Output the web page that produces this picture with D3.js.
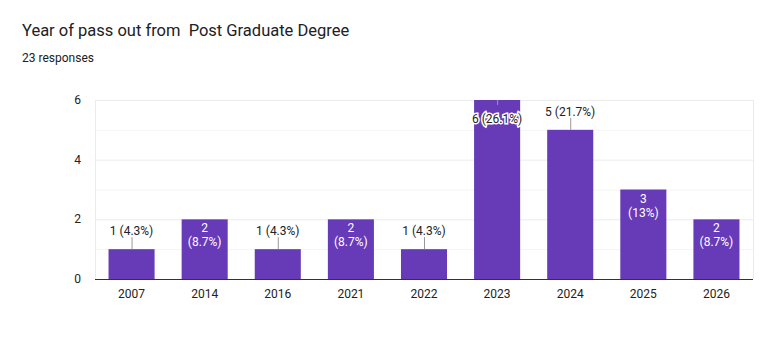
<!DOCTYPE html>
<html>
<head>
<meta charset="utf-8">
<style>
    body { margin: 0; background: #fff; font-family: Roboto, Arial, sans-serif; }
    .grid line { stroke: #ebebeb; }
    .minor line { stroke: #f4f4f4; }
    .axis text { fill: #222; font-size: 12px; }
</style>
</head>
<body>
<svg id="chart" width="763" height="351"></svg>
<script src="https://cdn.jsdelivr.net/npm/d3@7"></script>
<script>
    // chart data
    const years = ["2007", "2014", "2016", "2021", "2022", "2023", "2024", "2025", "2026"]
    const counts = [1, 2, 1, 2, 1, 6, 5, 3, 2]
    const percents = ["4.3%", "8.7%", "4.3%", "8.7%", "4.3%", "26.1%", "21.7%", "13%", "8.7%"]
    const yTicks = [0, 2, 4, 6]

    const svg = d3.select("#chart")
    const plotLeft = 95, plotRight = 753, plotTop = 100, plotBottom = 279

    svg.append("text").attr("x", 22).attr("y", 36)
        .attr("font-size", "16.5px").attr("fill", "#202124")
        .style("white-space", "pre")
        .text("Year of pass out from  Post Graduate Degree")
    svg.append("text").attr("x", 22).attr("y", 62)
        .attr("font-size", "12px").attr("fill", "#202124")
        .text("23 responses")

    let x = d3.scaleBand().domain(years).range([plotLeft, plotRight])
        .paddingInner(0.37).paddingOuter(0.185)
    let y = d3.scaleLinear().domain([0, 6]).range([plotBottom, plotTop])

    // odd gridlines lighter
    svg.append("g").attr("class", "minor")
        .selectAll("line").data([1, 3, 5]).join("line")
        .attr("x1", plotLeft).attr("x2", plotRight)
        .attr("y1", d => y(d) + 0.5).attr("y2", d => y(d) + 0.5)
    svg.append("g").attr("class", "grid")
        .selectAll("line").data(yTicks.slice(1)).join("line")
        .attr("x1", plotLeft).attr("x2", plotRight)
        .attr("y1", d => y(d) + 0.5).attr("y2", d => y(d) + 0.5)
    // frame sides
    svg.append("g").attr("class", "grid")
        .selectAll("line").data([plotLeft, plotRight]).join("line")
        .attr("x1", d => d + 0.5).attr("x2", d => d + 0.5)
        .attr("y1", plotTop).attr("y2", plotBottom)

    // y axis labels
    svg.append("g").attr("class", "axis")
        .selectAll("text").data(yTicks).join("text")
        .attr("x", 81).attr("y", d => y(d) + 4)
        .attr("text-anchor", "end").text(d => d)

    // bars
    svg.append("g").selectAll("rect").data(years).join("rect")
        .attr("x", d => x(d)).attr("width", x.bandwidth())
        .attr("y", (d, i) => y(counts[i]))
        .attr("height", (d, i) => y(0) - y(counts[i]))
        .attr("fill", "#673ab7")

    // baseline
    svg.append("line").attr("x1", plotLeft).attr("x2", plotRight)
        .attr("y1", plotBottom + 0.5).attr("y2", plotBottom + 0.5)
        .attr("stroke", "#333")

    // x axis labels
    svg.append("g").attr("class", "axis")
        .selectAll("text").data(years).join("text")
        .attr("x", d => x(d) + x.bandwidth() / 2).attr("y", 298)
        .attr("text-anchor", "middle").text(d => d)

    // value labels
    const lab = svg.append("g").attr("font-size", "12px")
    years.forEach((yr, i) => {
        let cx = x(yr) + x.bandwidth() / 2
        let v = counts[i]
        if (v === 2 || v === 3) {
            // inside, two lines, white
            lab.append("text").attr("x", cx).attr("y", y(v) + 13)
                .attr("text-anchor", "middle").attr("fill", "#fff").text(v)
            lab.append("text").attr("x", cx).attr("y", y(v) + 27)
                .attr("text-anchor", "middle").attr("fill", "#fff").text("(" + percents[i] + ")")
        } else if (v === 6) {
            // label pushed down inside the bar with a white halo
            lab.append("line").attr("x1", cx + 0.5).attr("x2", cx + 0.5)
                .attr("y1", y(v)).attr("y2", y(v) + 5).attr("stroke", "#999")
            lab.append("text").attr("x", cx).attr("y", y(v) + 23)
                .attr("text-anchor", "middle").attr("fill", "#222")
                .attr("stroke", "#fff").attr("stroke-width", 3)
                .attr("paint-order", "stroke")
                .text(v + " (" + percents[i] + ")")
        } else {
            lab.append("line").attr("x1", cx + 0.5).attr("x2", cx + 0.5)
                .attr("y1", y(v) - 12).attr("y2", y(v)).attr("stroke", "#999")
            lab.append("text").attr("x", cx).attr("y", y(v) - 14)
                .attr("text-anchor", "middle").attr("fill", "#222")
                .text(v + " (" + percents[i] + ")")
        }
    })
</script>
</body>
</html>
